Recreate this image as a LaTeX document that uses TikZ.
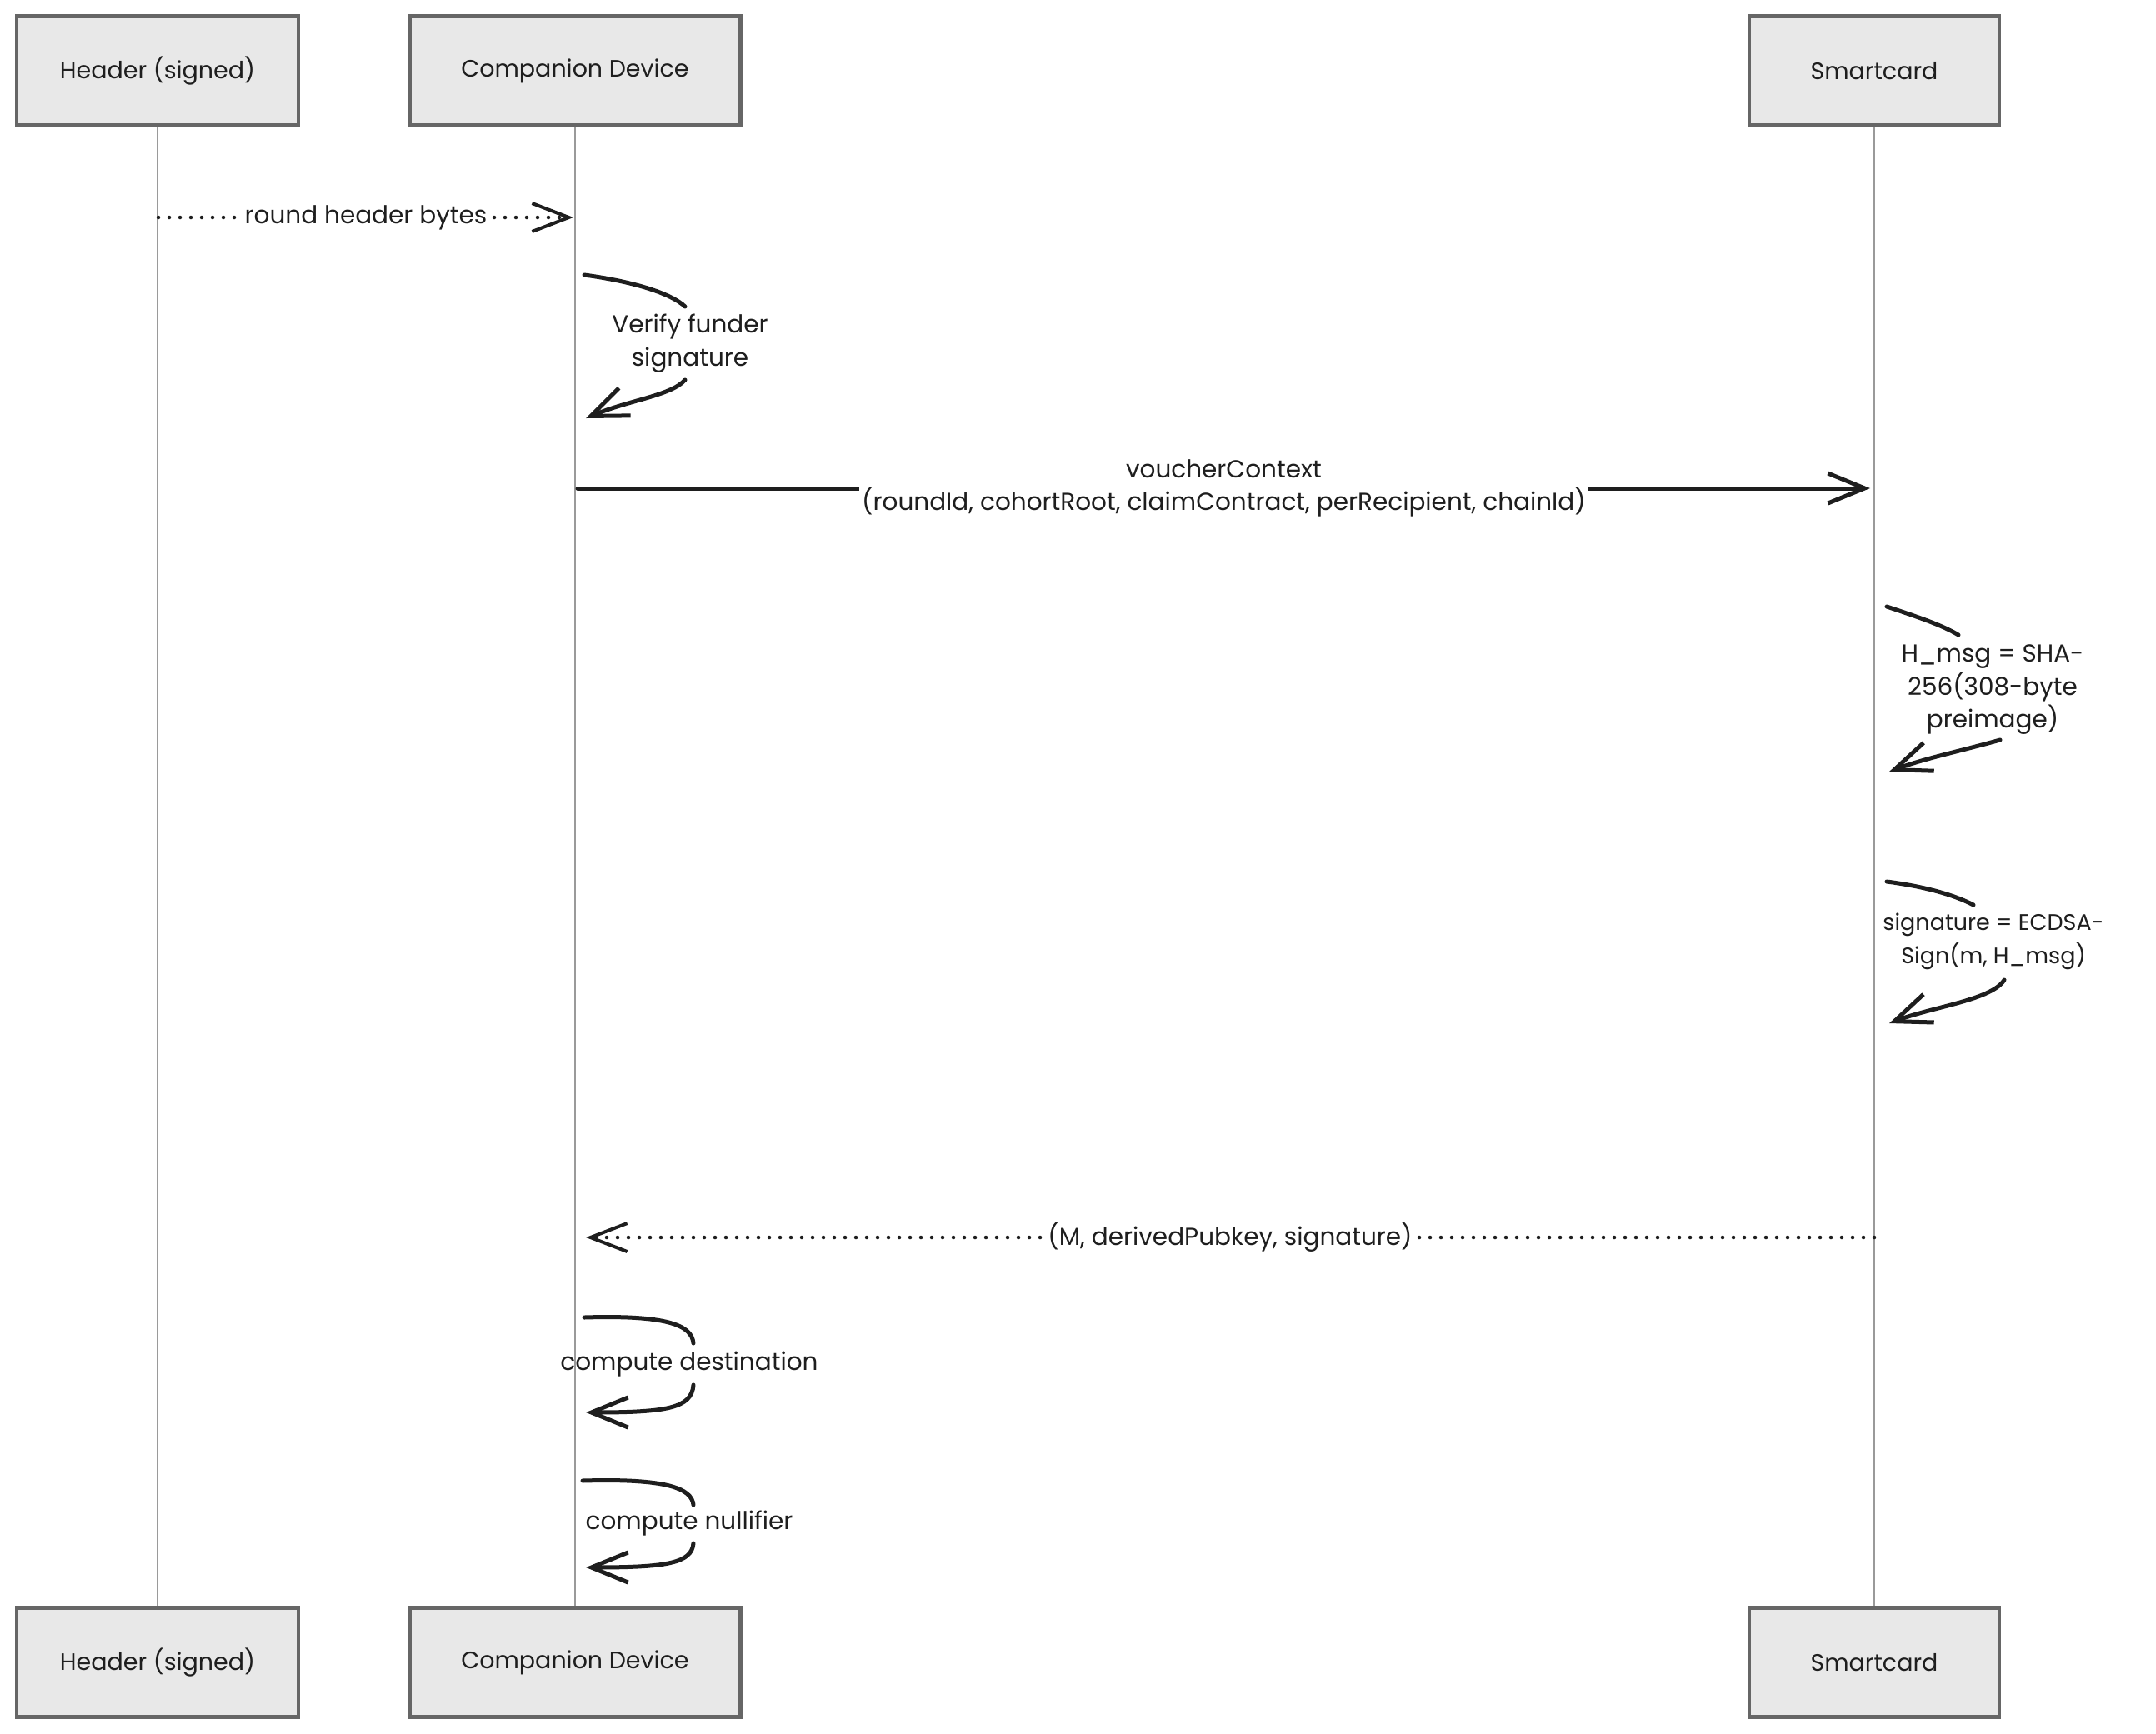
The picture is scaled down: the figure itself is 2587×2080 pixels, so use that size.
\documentclass[tikz,border=0pt]{standalone}
\usepackage{fontspec}
\setmainfont{Poppins}
\usetikzlibrary{arrows.meta}
\definecolor{boxfill}{HTML}{E8E8E8}
\definecolor{boxdraw}{HTML}{666666}
\definecolor{lifegray}{HTML}{9A9A9A}
\definecolor{ink}{HTML}{1E1E1E}
\begin{document}
\begin{tikzpicture}[x=1pt,y=-1pt,
  actor/.style={draw=boxdraw, line width=4.5pt, fill=boxfill, minimum width=#1,
    minimum height=131pt, inner sep=0pt, text=ink, font=\fontsize{28.5}{38}\selectfont},
  lifeline/.style={draw=lifegray, line width=2pt},
  lbl/.style={text=ink, align=center, font=\fontsize{29.5}{39.5}\selectfont, inner sep=3pt},
  msglbl/.style={lbl, fill=white},
  tipa/.style={-{Straight Barb[length=44pt,width=36pt,line width=5pt]}},
  msg/.style={draw=ink, line width=5pt, line cap=round, tipa},
  dmsg/.style={draw=ink, line width=4.5pt, line cap=round, dash pattern=on 0pt off 13pt,
    -{Straight Barb[length=44pt,width=34pt,line width=4pt]}},
  selfline/.style={draw=ink, line width=5pt, line cap=round},
  selfarr/.style={selfline, tipa}
]
\useasboundingbox (0,0) rectangle (2587,2080);
\fill[white] (0,0) rectangle (2587,2080);

% actors
\node[actor=338pt] (h1) at (189,85) {Header (signed)};
\node[actor=397pt] (c1) at (690,85) {Companion Device};
\node[actor=300pt] (s1) at (2249,85) {Smartcard};
\node[actor=338pt] (h2) at (189,1995) {Header (signed)};
\node[actor=397pt] (c2) at (690,1995) {Companion Device};
\node[actor=300pt] (s2) at (2249,1995) {Smartcard};

% lifelines
\draw[lifeline] (h1.south) -- (h2.north);
\draw[lifeline] (c1.south) -- (c2.north);
\draw[lifeline] (s1.south) -- (s2.north);

% message 1
\coordinate (m1a) at (190,261);
\coordinate (m1b) at (688,261);
\draw[dmsg] (m1a) -- node[msglbl] (l1) {round header bytes} (m1b);

% self: verify
\coordinate (v1) at (701,330);
\coordinate (v2) at (703,502);
\node[lbl] (vl) at (828,412) {Verify funder\\signature};
\draw[selfline] (v1) .. controls (760,338) and (805,352) .. (822,368);
\draw[selfarr] (822,456) .. controls (805,475) and (755,480) .. (v2);

% message voucherContext
\coordinate (m2a) at (693,586);
\coordinate (m2b) at (2244,586);
\draw[msg] (m2a) -- node[msglbl] (l2) {voucherContext\\(roundId, cohortRoot, claimContract, perRecipient, chainId)} (m2b);

% self: SHA
\coordinate (h1a) at (2264,728);
\coordinate (h1b) at (2267,926);
\node[lbl] (hl) at (2391,828) {H\_msg = SHA-\\256(308-byte\\preimage)};
\draw[selfline] (h1a) .. controls (2300,740) and (2330,750) .. (2350,762);
\draw[selfarr] (2400,888) .. controls (2350,902) and (2310,910) .. (h1b);

% self: ECDSA
\coordinate (e1a) at (2264,1058);
\coordinate (e1b) at (2267,1228);
\node[lbl, font=\fontsize{27}{39.5}\selectfont] (el) at (2392,1130) {signature = ECDSA-\\Sign(m, H\_msg)};
\draw[selfline] (e1a) .. controls (2310,1064) and (2345,1074) .. (2368,1086);
\draw[selfarr] (2405,1176) .. controls (2390,1200) and (2320,1208) .. (e1b);

% return
\coordinate (m3a) at (2249,1485);
\coordinate (m3b) at (703,1485);
\draw[dmsg] (m3a) -- node[msglbl] (l3) {(M, derivedPubkey, signature)} (m3b);

% self: compute destination
\coordinate (d1a) at (701,1581);
\coordinate (d1b) at (703,1695);
\node[lbl] (dl) at (827,1637) {compute destination};
\draw[selfline] (d1a) .. controls (800,1578) and (830,1590) .. (832,1612);
\draw[selfarr] (832,1662) .. controls (830,1690) and (800,1695) .. (d1b);

% self: compute nullifier
\coordinate (n1a) at (699,1777);
\coordinate (n1b) at (703,1881);
\node[lbl] (nl) at (827,1828) {compute nullifier};
\draw[selfline] (n1a) .. controls (800,1774) and (830,1786) .. (832,1806);
\draw[selfarr] (832,1852) .. controls (830,1876) and (800,1881) .. (n1b);
\end{tikzpicture}
\end{document}
